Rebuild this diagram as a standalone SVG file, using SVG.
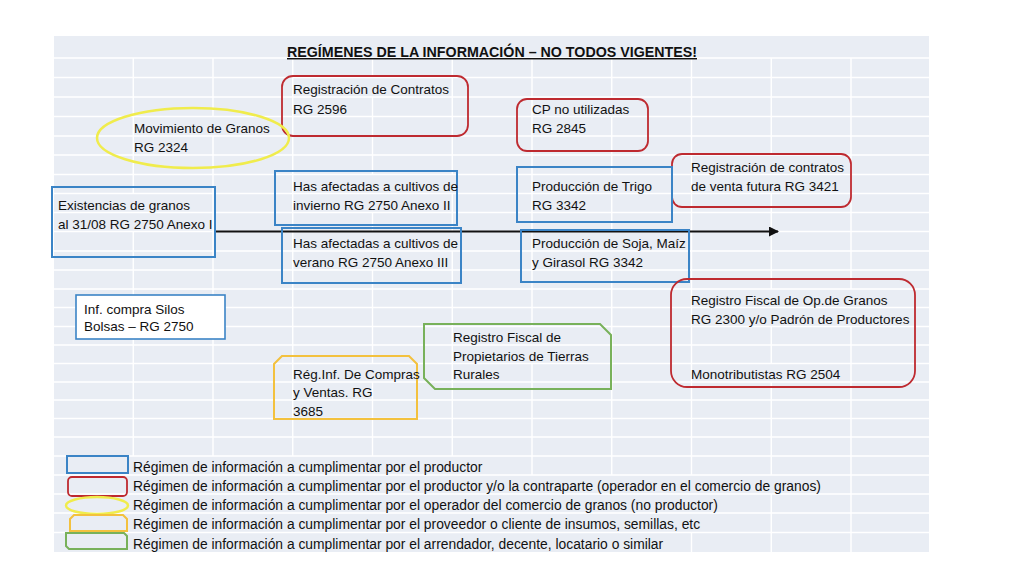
<svg xmlns="http://www.w3.org/2000/svg" width="1024" height="576" viewBox="0 0 1024 576">
<defs>
<style>
.t{font-family:"Liberation Sans",Arial,sans-serif;font-size:13.5px;fill:#111111}
.lg{font-family:"Liberation Sans",Arial,sans-serif;font-size:13.85px;fill:#111111}
.title{font-family:"Liberation Sans",Arial,sans-serif;font-size:14.4px;font-weight:bold;fill:#111111;text-decoration:underline}
.grid{stroke:#ffffff;stroke-width:1.4;fill:none}
.blue{fill:none;stroke:#3b84c6;stroke-width:2}
.red{fill:none;stroke:#be2a30;stroke-width:1.8}
.yel{fill:none;stroke:#f0ec4c;stroke-width:2.5}
.org{fill:none;stroke:#f3c13e;stroke-width:2}
.grn{fill:none;stroke:#78b15a;stroke-width:2}
</style>
<marker id="ah" viewBox="0 0 10 10" refX="9" refY="5" markerWidth="5" markerHeight="5" orient="auto" markerUnits="strokeWidth">
<path d="M0,0 L10,5 L0,10 Z" fill="#111"/>
</marker>
</defs>
<rect x="0" y="0" width="1024" height="576" fill="#ffffff"/>
<g id="sheet">
<rect x="54" y="36" width="875" height="516" fill="#e9edf4"/>
<path class="grid" d="M54,58H929 M54,77.5H929 M54,97H929 M54,116.5H929 M54,136H929 M54,155H929 M54,174.5H929 M54,193.5H929 M54,212.5H929 M54,231.5H929 M54,251H929 M54,270H929 M54,289H929 M54,307.5H929 M54,326.5H929 M54,345H929 M54,363.5H929 M54,382H929 M54,400H929 M54,418.5H929 M54,437H929 M54,456H929 M54,475H929 M54,494H929 M54,513H929 M54,532.5H929"/>
<path class="grid" d="M133.25,58V193.5 M133.25,231.5V456 M213,58V116.5 M213,136V456 M292.75,58V456 M372.5,58V77.5 M372.5,97V174.5 M372.5,212.5V231.5 M372.5,270V363.5 M372.5,382V456 M452.25,58V174.5 M452.25,193.5V231.5 M452.25,251V456 M532,58V326.5 M532,363.5V475 M611.75,58V97 M611.75,116.5V174.5 M611.75,193.5V231.5 M611.75,270V475 M691.5,58V475 M691.5,532.5V552 M771.25,58V155 M771.25,193.5V289 M771.25,326.5V363.5 M771.25,382V475 M771.25,494V552 M851,58V289 M851,326.5V552"/>
<text class="title" x="492" y="57" text-anchor="middle" textLength="410" lengthAdjust="spacingAndGlyphs">REGÍMENES DE LA INFORMACIÓN – NO TODOS VIGENTES!</text>
</g>
<g id="connectors">
<line x1="215" y1="231.5" x2="778" y2="231.5" stroke="#111" stroke-width="2" marker-end="url(#ah)"/>
</g>
<g id="n-contratos">
<rect class="red" x="282" y="76" width="186" height="60" rx="11"/>
<text class="t" x="293" y="94">Registración de Contratos</text>
<text class="t" x="293" y="113.5">RG 2596</text>
</g>
<g id="n-cp">
<rect class="red" x="517" y="99" width="131" height="52" rx="10"/>
<text class="t" x="532" y="113.5">CP no utilizadas</text>
<text class="t" x="532" y="133">RG 2845</text>
</g>
<g id="n-movimiento">
<ellipse class="yel" cx="193" cy="138" rx="96" ry="30"/>
<text class="t" x="134" y="133">Movimiento de Granos</text>
<text class="t" x="134" y="152">RG 2324</text>
</g>
<g id="n-futura">
<rect class="red" x="672" y="154" width="179" height="53" rx="10"/>
<text class="t" x="691" y="171.5">Registración de contratos</text>
<text class="t" x="691" y="190.5">de venta futura RG 3421</text>
</g>
<g id="n-invierno">
<rect class="blue" x="275" y="171" width="182" height="54"/>
<text class="t" x="293" y="190.5">Has afectadas a cultivos de</text>
<text class="t" x="293" y="209.5">invierno RG 2750 Anexo II</text>
</g>
<g id="n-trigo">
<rect class="blue" x="517" y="167" width="155" height="55"/>
<text class="t" x="532" y="190.5">Producción de Trigo</text>
<text class="t" x="532" y="209.5">RG 3342</text>
</g>
<g id="n-existencias">
<rect class="blue" x="52" y="187" width="163" height="70"/>
<text class="t" x="58" y="209.5">Existencias de granos</text>
<text class="t" x="58" y="228.5">al 31/08 RG 2750 Anexo I</text>
</g>
<g id="n-verano">
<rect class="blue" x="282" y="228" width="179" height="55"/>
<text class="t" x="293" y="248">Has afectadas a cultivos de</text>
<text class="t" x="293" y="267">verano RG 2750 Anexo III</text>
</g>
<g id="n-soja">
<rect class="blue" x="521" y="230" width="168" height="52"/>
<text class="t" x="532" y="248">Producción de Soja, Maíz</text>
<text class="t" x="532" y="267">y Girasol RG 3342</text>
</g>
<g id="n-silos">
<rect x="76" y="295" width="149" height="44" fill="#ffffff" stroke="#3b84c6" stroke-width="1.6"/>
<text class="t" x="84" y="314">Inf. compra Silos</text>
<text class="t" x="84" y="331">Bolsas – RG 2750</text>
</g>
<g id="n-registro-fiscal">
<rect class="red" x="671" y="279" width="244" height="108" rx="16"/>
<text class="t" x="691" y="304.5">Registro Fiscal de Op.de Granos</text>
<text class="t" x="691" y="323.5">RG 2300 y/o Padrón de Productores</text>
<text class="t" x="691" y="379">Monotributistas RG 2504</text>
</g>
<g id="n-tierras">
<path class="grn" d="M424,324 L600,324 L611,335 L611,389 L435,389 L424,378 Z"/>
<text class="t" x="453" y="342">Registro Fiscal de</text>
<text class="t" x="453" y="360.5">Propietarios de Tierras</text>
<text class="t" x="453" y="379">Rurales</text>
</g>
<g id="n-compras">
<path class="org" d="M274,364 L282,356 L409,356 L417,364 L417,419 L274,419 Z"/>
<text class="t" x="293" y="379">Rég.Inf. De Compras</text>
<text class="t" x="293" y="397">y Ventas. RG</text>
<text class="t" x="293" y="415.5">3685</text>
</g>
<g id="legend">
<rect class="blue" x="67" y="456" width="61" height="17" stroke-width="1.6"/>
<text class="lg" x="133" y="471.5">Régimen de información a cumplimentar por el productor</text>
<rect class="red" x="68" y="477" width="59" height="19" rx="4" stroke-width="1.6"/>
<text class="lg" x="133" y="490.5">Régimen de información a cumplimentar por el productor y/o la contraparte (operador en el comercio de granos)</text>
<ellipse class="yel" cx="97" cy="505.5" rx="31" ry="8.5" stroke-width="2"/>
<text class="lg" x="133" y="509.5">Régimen de información a cumplimentar por el operador del comercio de granos (no productor)</text>
<path class="org" d="M70,519 L74,515 L123,515 L127,519 L127,531 L70,531 Z" stroke-width="1.6"/>
<text class="lg" x="133" y="529">Régimen de información a cumplimentar por el proveedor o cliente de insumos, semillas, etc</text>
<path class="grn" d="M66,533 L124,533 L127,536 L127,549 L69,549 L66,546 Z" stroke-width="1.6"/>
<text class="lg" x="133" y="548.5">Régimen de información a cumplimentar por el arrendador, decente, locatario o similar</text>
</g>
</svg>
